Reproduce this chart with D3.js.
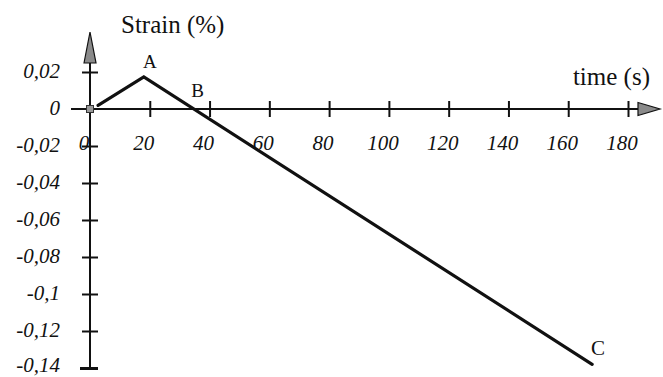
<!DOCTYPE html>
<html>
<head>
<meta charset="utf-8">
<script src="https://cdn.jsdelivr.net/npm/d3@7"></script>
<style>
  body { margin: 0; background: #fff; }
  svg { display: block; }
  text { font-family: "Liberation Serif", "DejaVu Serif", serif; fill: #111; }
</style>
</head>
<body>
<svg id="chart" width="663" height="377"></svg>
<script>
// strain curve: [time (s), strain (%)]
var times   = [2.7, 18, 168];
var strains = [0.002, 0.0173, -0.138];

var xTicks = [0, 20, 40, 60, 80, 100, 120, 140, 160, 180];
var xTickLabels = ["0", "20", "40", "60", "80", "100", "120", "140", "160", "180"];
var yTicks = [0.02, 0, -0.02, -0.04, -0.06, -0.08, -0.1, -0.12, -0.14];
var yTickLabels = ["0,02", "0", "-0,02", "-0,04", "-0,06", "-0,08", "-0,1", "-0,12", "-0,14"];

// point labels
var pointNames = ["A", "B", "C"];
var pointTimes = [20, 36, 170];
var pointStrains = [0.022, 0.0065, -0.1330];

var svg = d3.select("#chart");

var x = d3.scaleLinear().domain([0, 180]).range([90, 628]);
var y = d3.scaleLinear().domain([-0.14, 0]).range([368, 109]);

var ink = "#111";

// x tick labels (drawn first, the y axis passes over the "0")
svg.append("g").selectAll("text")
    .data(xTicks)
    .enter().append("text")
    .attr("x", function(d) { return x(d) - 6; })
    .attr("y", y(0) + 41)
    .attr("text-anchor", "middle")
    .style("font-style", "italic")
    .style("font-size", "21px")
    .text(function(d, i) { return xTickLabels[i]; });

// x axis: d3 axis for the ticks, own line + arrow for the domain
var xAxis = d3.axisBottom(x)
    .tickValues(xTicks.slice(1))
    .tickSize(16)
    .tickFormat("");

var gx = svg.append("g")
    .attr("transform", "translate(0," + y(0) + ")")
    .call(xAxis);
gx.select(".domain").remove();
gx.selectAll(".tick line")
    .attr("y1", -8).attr("y2", 8)
    .attr("stroke", ink).attr("stroke-width", 2);

svg.append("line")
    .attr("x1", 71).attr("x2", 640)
    .attr("y1", y(0)).attr("y2", y(0))
    .attr("stroke", ink).attr("stroke-width", 2);

svg.append("path")
    .attr("d", "M638," + (y(0) - 6.5) + "L660," + y(0) + "L638," + (y(0) + 6.5) + "Z")
    .attr("fill", "#8a8a8a").attr("stroke", ink).attr("stroke-width", 1.2);

// y axis
var yAxis = d3.axisLeft(y)
    .tickValues(yTicks.filter(function(d) { return d !== 0; }))
    .tickSize(16)
    .tickFormat("");

var gy = svg.append("g")
    .attr("transform", "translate(" + x(0) + ",0)")
    .call(yAxis);
gy.select(".domain").remove();
gy.selectAll(".tick line")
    .attr("x2", 8)
    .attr("stroke", ink)
    .attr("stroke-width", function(d) { return d === -0.14 ? 3 : 2; })
    .attr("x1", function(d) { return d === -0.14 ? -10 : -8; });

svg.append("line")
    .attr("x1", x(0)).attr("x2", x(0))
    .attr("y1", 63).attr("y2", y(-0.14))
    .attr("stroke", ink).attr("stroke-width", 2);

svg.append("path")
    .attr("d", "M" + (x(0) - 6) + ",63L" + x(0) + ",32L" + (x(0) + 6) + ",63Z")
    .attr("fill", "#8a8a8a").attr("stroke", ink).attr("stroke-width", 1.2);

svg.append("g").selectAll("text")
    .data(yTicks)
    .enter().append("text")
    .attr("x", x(0) - 30)
    .attr("y", function(d) { return Math.min(y(d) + 6, 372); })
    .attr("text-anchor", "end")
    .style("font-style", "italic")
    .style("font-size", "21px")
    .text(function(d, i) { return yTickLabels[i]; });

// origin marker
svg.append("rect")
    .attr("x", x(0) - 3.5).attr("y", y(0) - 3.5)
    .attr("width", 7).attr("height", 7)
    .attr("fill", "#999").attr("stroke", "#333").attr("stroke-width", 1);

// strain curve
var line = d3.line()
    .x(function(d, i) { return x(times[i]); })
    .y(function(d, i) { return y(strains[i]); });

svg.append("path")
    .datum(times)
    .attr("d", line)
    .attr("fill", "none")
    .attr("stroke", ink)
    .attr("stroke-width", 3.2)
    .attr("stroke-linecap", "round")
    .attr("stroke-linejoin", "miter");

// point labels
svg.append("g").selectAll("text")
    .data(pointNames)
    .enter().append("text")
    .attr("x", function(d, i) { return x(pointTimes[i]); })
    .attr("y", function(d, i) { return y(pointStrains[i]); })
    .attr("text-anchor", "middle")
    .style("font-size", function(d) { return d === "C" ? "21px" : "19px"; })
    .text(function(d) { return d; });

// axis titles
svg.append("text")
    .attr("x", 121).attr("y", 33)
    .style("font-size", "25px")
    .text("Strain (%)");

svg.append("text")
    .attr("x", 650).attr("y", 85)
    .attr("text-anchor", "end")
    .style("font-size", "25px")
    .text("time (s)");
</script>
</body>
</html>
